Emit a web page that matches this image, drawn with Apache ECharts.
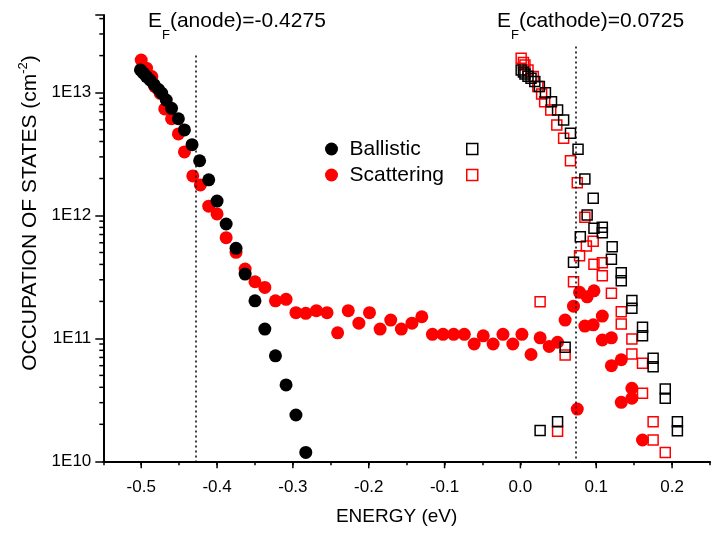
<!DOCTYPE html>
<html><head><meta charset="utf-8">
<script src="https://cdn.jsdelivr.net/npm/echarts@6/dist/echarts.min.js"></script>
<style>html,body{margin:0;padding:0;background:#fff}#c{width:713px;height:535px}</style>
</head><body><div id="c"></div>
<script>
// ---- axes ----
const X_MIN = -0.55, X_MAX = 0.25, X_STEP = 0.05;
const Y_MIN = 1e10, Y_MAX = 4.28e13;
const X_MAJOR_TICKS = [-0.5, -0.4, -0.3, -0.2, -0.1, 0.0, 0.1, 0.2];
const Y_MINOR_TICKS = [2e10,3e10,4e10,5e10,6e10,7e10,8e10,9e10,
                       2e11,3e11,4e11,5e11,6e11,7e11,8e11,9e11,
                       2e12,3e12,4e12,5e12,6e12,7e12,8e12,9e12,
                       2e13,3e13,4e13];
const EF_ANODE = -0.4275, EF_CATHODE = 0.0725;
const EF_ANODE_TOP = 2.0e13, EF_CATHODE_TOP = 2.37e13;
const LEGEND_NAMES = ['Ballistic', 'Scattering'];

// ---- data [energy eV, occupation cm^-2] ----
const ballisticCircles = [
  [-0.501,1.53e13],[-0.497,1.44e13],[-0.493,1.35e13],[-0.488,1.26e13],[-0.483,1.16e13],
  [-0.477,1.06e13],[-0.473,9.9e12],[-0.467,8.7e12],[-0.460,7.45e12],[-0.451,6.13e12],
  [-0.443,4.97e12],[-0.433,3.77e12],[-0.423,2.79e12],[-0.411,1.95e12],[-0.400,1.31e12],
  [-0.388,8.53e11],[-0.375,5.41e11],[-0.363,3.34e11],[-0.350,2.02e11],[-0.337,1.19e11],
  [-0.323,7.22e10],[-0.309,4.18e10],[-0.296,2.38e10],[-0.283,1.18e10]
];
const scatteringCircles = [
  [-0.500,1.84e13],[-0.493,1.58e13],[-0.486,1.35e13],[-0.482,1.12e13],[-0.475,9.87e12],
  [-0.469,7.36e12],[-0.460,6.13e12],[-0.451,4.61e12],[-0.443,3.29e12],[-0.432,2.10e12],
  [-0.422,1.77e12],[-0.411,1.19e12],[-0.400,1.03e12],[-0.388,6.60e11],[-0.375,5.02e11],
  [-0.363,3.67e11],[-0.350,2.89e11],[-0.337,2.60e11],[-0.323,2.02e11],[-0.309,2.08e11],
  [-0.296,1.62e11],[-0.283,1.60e11],[-0.269,1.68e11],[-0.255,1.62e11],[-0.241,1.11e11],
  [-0.227,1.68e11],[-0.213,1.33e11],[-0.199,1.62e11],[-0.185,1.19e11],[-0.171,1.41e11],
  [-0.157,1.19e11],[-0.143,1.33e11],[-0.130,1.50e11],[-0.116,1.08e11],[-0.102,1.08e11],
  [-0.088,1.08e11],[-0.074,1.08e11],[-0.061,9.0e10],[-0.049,1.05e11],[-0.036,9.0e10],
  [-0.023,1.08e11],[-0.010,9.0e10],[0.002,1.08e11],[0.014,7.4e10],[0.026,1.01e11],
  [0.038,8.6e10],[0.049,9.3e10],[0.059,1.41e11],[0.070,1.83e11],[0.078,2.37e11],
  [0.088,2.18e11],[0.097,2.44e11],[0.085,1.26e11],[0.096,1.29e11],[0.108,1.52e11],
  [0.108,9.7e10],[0.120,1.01e11],[0.133,6.7e10],[0.120,6.0e10],[0.075,2.66e10],
  [0.147,3.93e10],[0.147,3.26e10],[0.133,3.02e10],[0.161,1.49e10]
];
const ballisticSquares = [
  [0.001,1.53e13],[0.004,1.47e13],[0.006,1.42e13],[0.010,1.36e13],[0.014,1.31e13],
  [0.019,1.23e13],[0.025,1.12e13],[0.033,9.98e12],[0.041,8.43e12],[0.049,7.22e12],
  [0.057,5.98e12],[0.066,4.67e12],[0.076,3.46e12],[0.085,1.98e12],[0.096,1.38e12],
  [0.088,1.01e12],[0.097,7.87e11],[0.108,8.02e11],[0.108,7.24e11],[0.079,6.72e11],
  [0.121,5.57e11],[0.120,4.40e11],[0.070,4.16e11],[0.133,3.42e11],[0.133,2.95e11],
  [0.147,2.03e11],[0.147,1.76e11],[0.161,1.23e11],[0.161,1.05e11],[0.059,8.46e10],
  [0.175,6.89e10],[0.175,5.89e10],[0.191,3.88e10],[0.191,3.26e10],[0.207,2.10e10],
  [0.207,1.77e10],[0.049,2.10e10],[0.026,1.78e10]
];
const scatteringSquares = [
  [0.001,1.90e13],[0.004,1.76e13],[0.006,1.68e13],[0.010,1.53e13],[0.017,1.35e13],
  [0.023,1.12e13],[0.028,9.74e12],[0.032,8.43e12],[0.040,7.22e12],[0.048,5.45e12],
  [0.057,4.25e12],[0.066,2.79e12],[0.075,1.85e12],[0.085,9.67e11],[0.096,6.17e11],
  [0.087,5.65e11],[0.078,4.71e11],[0.097,4.01e11],[0.108,4.13e11],[0.108,3.24e11],
  [0.070,2.89e11],[0.120,2.33e11],[0.133,1.65e11],[0.133,1.31e11],[0.147,9.89e10],
  [0.147,7.47e10],[0.161,6.27e10],[0.059,7.33e10],[0.161,3.58e10],[0.026,1.99e11],
  [0.049,1.76e10],[0.175,2.10e10],[0.175,1.49e10],[0.191,1.18e10]
];

const FONT = "'Liberation Sans', Arial, sans-serif";
const chart = echarts.init(document.getElementById('c'), null, {renderer: 'canvas'});

const tickSeries = (data, dx, dy) => ({
  type: 'custom', silent: true, clip: false, z: 1, data,
  renderItem: (params, api) => {
    const p = api.coord([api.value(0), api.value(1)]);
    return {type: 'line', shape: {x1: p[0], y1: p[1], x2: p[0] + dx, y2: p[1] + dy},
            style: {stroke: '#000', lineWidth: 1.5}};
  }
});

const subRich = {
  a: {fontFamily: FONT, fontSize: 21, lineHeight: 24, verticalAlign: 'top', fill: '#000'},
  s: {fontFamily: FONT, fontSize: 13, lineHeight: 13, verticalAlign: 'top', padding: [18, 0, 0, 0], fill: '#000'}
};

const option = {
  animation: false,
  backgroundColor: '#fff',
  grid: {left: 103.3, top: 15, right: -4.2, bottom: 73.7, containLabel: false},
  xAxis: {
    type: 'value', min: X_MIN, max: X_MAX, interval: X_STEP,
    name: 'ENERGY (eV)', nameLocation: 'middle', nameGap: 46,
    nameTextStyle: {fontFamily: FONT, fontSize: 19, color: '#000', padding: [0, 20, 0, 0]},
    axisLine: {onZero: false, lineStyle: {color: '#000', width: 2}},
    axisTick: {inside: false, length: 4, lineStyle: {color: '#000', width: 1.5}},
    axisLabel: {fontFamily: FONT, fontSize: 17, color: '#000', margin: 18,
      formatter: v => { const r = Math.round(v * 10); return Math.abs(v * 10 - r) < 1e-6 ? (r === 0 ? '0.0' : (r / 10).toFixed(1)) : ''; }},
    splitLine: {show: false}
  },
  yAxis: {
    type: 'log', logBase: 10, min: Y_MIN, max: Y_MAX,
    axisLine: {show: true, onZero: false, lineStyle: {color: '#000', width: 2}},
    axisTick: {show: true, inside: false, length: 8, lineStyle: {color: '#000', width: 1.5}},
    axisLabel: {fontFamily: FONT, fontSize: 17, color: '#000', margin: 12,
      formatter: v => { const l = Math.log10(v); const r = Math.round(l); return Math.abs(l - r) < 1e-6 ? '1E' + r : ''; }},
    splitLine: {show: false}
  },
  legend: [
    {data: LEGEND_NAMES, orient: 'vertical', left: 325, top: 138, padding: 0,
     itemWidth: 26, itemHeight: 13, itemGap: 4, icon: 'circle', selectedMode: false,
     textStyle: {fontFamily: FONT, fontSize: 21, color: '#000', lineHeight: 22}},
    {data: [
        {name: 'Ballistic sq', icon: 'rect', itemStyle: {color: 'rgba(0,0,0,0)', borderColor: '#000', borderWidth: 1.5}},
        {name: 'Scattering sq', icon: 'rect', itemStyle: {color: 'rgba(0,0,0,0)', borderColor: '#ff0000', borderWidth: 1.5}}
     ], orient: 'vertical', left: 466, top: 138, padding: 0,
     itemWidth: 11, itemHeight: 11, itemGap: 4,
     selectedMode: false, formatter: () => ' ',
     textStyle: {fontFamily: FONT, fontSize: 21, color: '#000', lineHeight: 22}}
  ],
  graphic: [
    {type: 'text', left: 148, top: 11, silent: true,
     style: {text: '{a|E}{s|F}{a|(anode)=-0.4275}', rich: subRich}},
    {type: 'text', left: 497, top: 11, silent: true,
     style: {text: '{a|E}{s|F}{a|(cathode)=0.0725}', rich: subRich}},
    {type: 'text', x: 29, y: 213, rotation: Math.PI / 2, silent: true,
     style: {text: '{a|OCCUPATION OF STATES (cm}{u|-2}{a|)}', align: 'center', verticalAlign: 'middle',
       rich: {a: {fontFamily: FONT, fontSize: 21, lineHeight: 24, verticalAlign: 'bottom', fill: '#000'},
              u: {fontFamily: FONT, fontSize: 13, lineHeight: 13, verticalAlign: 'top', fill: '#000'}}}}
  ],
  series: [
    {name: 'Scattering', type: 'scatter', data: scatteringCircles, symbol: 'circle', symbolSize: 13,
     itemStyle: {color: '#ff0000', opacity: 1}, z: 2,
     markLine: {silent: true, symbol: 'none', label: {show: false}, animation: false,
       lineStyle: {color: '#000', type: [2, 3], width: 1.5},
       data: [[{coord: [EF_ANODE, EF_ANODE_TOP]}, {coord: [EF_ANODE, Y_MIN]}],
              [{coord: [EF_CATHODE, EF_CATHODE_TOP]}, {coord: [EF_CATHODE, Y_MIN]}]]}},
    {name: 'Scattering sq', type: 'scatter', data: scatteringSquares, symbol: 'rect', symbolSize: 10,
     itemStyle: {color: 'rgba(0,0,0,0)', borderColor: '#ff0000', borderWidth: 1.5, opacity: 1}, z: 3},
    {name: 'Ballistic', type: 'scatter', data: ballisticCircles, symbol: 'circle', symbolSize: 13,
     itemStyle: {color: '#000', opacity: 1}, z: 4},
    {name: 'Ballistic sq', type: 'scatter', data: ballisticSquares, symbol: 'rect', symbolSize: 10,
     itemStyle: {color: 'rgba(0,0,0,0)', borderColor: '#000', borderWidth: 1.5, opacity: 1}, z: 5},
    tickSeries(X_MAJOR_TICKS.map(v => [v, Y_MIN]), 0, 7),
    tickSeries(Y_MINOR_TICKS.map(v => [X_MIN, v]), -4, 0)
  ]
};
chart.setOption(option);
</script></body></html>
